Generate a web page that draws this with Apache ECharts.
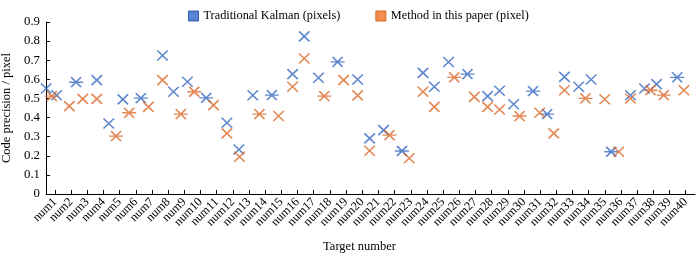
<!DOCTYPE html>
<html>
<head>
<meta charset="utf-8">
<script src="https://cdn.jsdelivr.net/npm/echarts@6/dist/echarts.min.js"></script>
<style>
html, body { margin: 0; padding: 0; background: #fff; }
#main { width: 700px; height: 253px; }
</style>
</head>
<body>
<div id="main"></div>
<script>
var dom = document.getElementById('main');
var myChart = echarts.init(dom);

// tick labels of the x axis (target numbers)
var targets = ['num1', 'num2', 'num3', 'num4', 'num5', 'num6', 'num7', 'num8', 'num9', 'num10',
    'num11', 'num12', 'num13', 'num14', 'num15', 'num16', 'num17', 'num18', 'num19', 'num20',
    'num21', 'num22', 'num23', 'num24', 'num25', 'num26', 'num27', 'num28', 'num29', 'num30',
    'num31', 'num32', 'num33', 'num34', 'num35', 'num36', 'num37', 'num38', 'num39', 'num40'];

// Traditional Kalman: x position (in target units) and precision
var kalmanX = [0.45, 1.10, 2.30, 3.58, 4.32, 5.19, 6.30, 7.64, 8.32, 9.18,
    10.34, 11.62, 12.36, 13.22, 14.40, 15.68, 16.40, 17.28, 18.46, 19.70,
    20.44, 21.30, 22.44, 23.74, 24.44, 25.32, 26.49, 27.73, 28.47, 29.34,
    30.54, 31.41, 32.48, 33.36, 34.13, 35.37, 36.56, 37.43, 38.17, 39.45];
var kalmanY = [0.552, 0.517, 0.585, 0.596, 0.369, 0.495, 0.502, 0.725, 0.535, 0.587,
    0.503, 0.373, 0.233, 0.517, 0.517, 0.627, 0.825, 0.608, 0.691, 0.599,
    0.291, 0.334, 0.225, 0.634, 0.561, 0.691, 0.627, 0.512, 0.540, 0.470,
    0.538, 0.418, 0.613, 0.561, 0.599, 0.221, 0.517, 0.552, 0.575, 0.610];

// Method in this paper
var oursX = [0.80, 1.88, 2.71, 3.58, 4.77, 5.58, 6.77, 7.64, 8.77, 9.60,
    10.79, 11.62, 12.40, 13.63, 14.81, 15.68, 16.40, 17.64, 18.83, 19.70,
    20.44, 21.67, 22.89, 23.74, 24.44, 25.67, 26.91, 27.73, 28.47, 29.71,
    30.95, 31.82, 32.48, 33.78, 34.97, 35.84, 36.56, 37.80, 38.62, 39.86];
var oursY = [0.512, 0.460, 0.498, 0.498, 0.303, 0.425, 0.456, 0.596, 0.418, 0.535,
    0.465, 0.317, 0.195, 0.418, 0.408, 0.561, 0.709, 0.512, 0.596, 0.516,
    0.226, 0.308, 0.187, 0.535, 0.456, 0.610, 0.508, 0.456, 0.442, 0.408,
    0.425, 0.317, 0.543, 0.500, 0.496, 0.221, 0.500, 0.543, 0.517, 0.543];

// points drawn as asterisks instead of crosses (1-based)
var kalmanStar = [3, 7, 11, 15, 19, 23, 27, 31, 32, 36, 40];
var oursStar = [1, 5, 6, 9, 10, 14, 18, 22, 26, 30, 34, 38, 39];

var FONT = 'Liberation Serif';
var CROSS = 'path://M0,0L10,10M10,0L0,10';
var STAR = 'path://M2,0L12,10M12,0L2,10M0,5L14,5';

function buildPoints(xs, ys, stars) {
    return xs.map(function (x, i) {
        var star = stars.indexOf(i + 1) >= 0;
        return {
            value: [x, ys[i]],
            symbol: star ? STAR : CROSS,
            symbolSize: star ? [14, 10] : [10.5, 10]
        };
    });
}

option = {
    backgroundColor: '#fff',
    animation: false,
    textStyle: { fontFamily: FONT, color: '#000' },
    legend: {
        left: 183,
        top: 5,
        itemWidth: 10,
        itemHeight: 10,
        itemGap: 35,
        textStyle: { fontFamily: FONT, fontSize: 12.3, color: '#000' },
        data: [
            { name: 'Traditional Kalman (pixels)', icon: 'rect',
              itemStyle: { color: '#2f66cc', borderColor: '#1d4a9e', borderWidth: 1 } },
            { name: 'Method in this paper (pixel)', icon: 'rect',
              itemStyle: { color: '#f07020', borderColor: '#c45410', borderWidth: 1 } }
        ]
    },
    // grid 0 holds the data, grid 1 only carries the target ticks/labels
    grid: [
        { left: 46, right: 5, top: 22, bottom: 59, containLabel: false, outerBoundsMode: 'none' },
        { left: 55, right: 14.3, top: 22, bottom: 59, containLabel: false, outerBoundsMode: 'none' }
    ],
    xAxis: [
        {
            type: 'value',
            gridIndex: 0,
            min: 0.44,
            max: 40.55,
            name: 'Target number',
            nameLocation: 'middle',
            nameGap: 46,
            nameTextStyle: { fontFamily: FONT, fontSize: 12.5, color: '#000', padding: [0, 22, 0, 0] },
            axisLine: { lineStyle: { color: '#000', width: 1 } },
            axisTick: { show: false },
            axisLabel: { show: false },
            splitLine: { show: false }
        },
        {
            type: 'category',
            gridIndex: 1,
            data: targets,
            boundaryGap: false,
            axisLine: { show: false },
            axisTick: { show: true, inside: true, length: 4, interval: 0,
                lineStyle: { color: '#000' } },
            axisLabel: {
                interval: 0,
                rotate: 45,
                margin: 6,
                fontFamily: FONT,
                fontSize: 12.3,
                color: '#000'
            },
            splitLine: { show: false }
        }
    ],
    yAxis: [
        {
            type: 'value',
            gridIndex: 0,
            min: 0,
            max: 0.9,
            interval: 0.1,
            name: 'Code precision / pixel',
            nameLocation: 'middle',
            nameGap: 28,
            nameTextStyle: { fontFamily: FONT, fontSize: 12.5, color: '#000' },
            axisLine: { show: true, lineStyle: { color: '#000', width: 1 } },
            axisTick: { show: true, inside: true, length: 4, lineStyle: { color: '#000' } },
            axisLabel: { fontFamily: FONT, fontSize: 12.8, color: '#000', margin: 6 },
            splitLine: { show: false }
        },
        { type: 'value', gridIndex: 1, show: false }
    ],
    series: [
        {
            name: 'Traditional Kalman (pixels)',
            type: 'scatter',
            xAxisIndex: 0,
            yAxisIndex: 0,
            data: buildPoints(kalmanX, kalmanY, kalmanStar),
            itemStyle: { color: 'rgba(0,0,0,0)', borderColor: '#3a6cc2', borderWidth: 1.6 }
        },
        {
            name: 'Method in this paper (pixel)',
            type: 'scatter',
            xAxisIndex: 0,
            yAxisIndex: 0,
            data: buildPoints(oursX, oursY, oursStar),
            itemStyle: { color: 'rgba(0,0,0,0)', borderColor: '#dc6a2c', borderWidth: 1.6 }
        }
    ]
};
myChart.setOption(option);
</script>
</body>
</html>
